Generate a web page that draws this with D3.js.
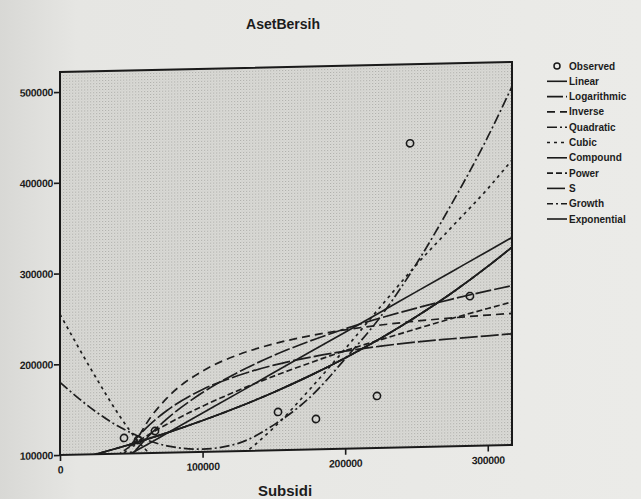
<!DOCTYPE html>
<html>
<head>
<meta charset="utf-8">
<script src="https://cdn.jsdelivr.net/npm/d3@7"></script>
<style>
  html, body { margin: 0; padding: 0; background: #e9e9e6; }
  svg { display: block; }
  text { font-family: "Liberation Sans", Arial, sans-serif; fill: #1c1c1c; }
</style>
</head>
<body>
<svg id="chart" width="641" height="499"></svg>
<script>
// values
const gridX = [0, 25000, 40000, 50000, 60000, 75000, 100000, 125000, 150000,
  175000, 200000, 225000, 250000, 275000, 300000, 317000]

const linearY = [57000, 78400, 91300, 99900, 108400, 121300, 142700, 164100, 185600,
  207000, 228400, 249800, 271300, 292700, 314100, 328700]
const logY = [null, 29200, 75500, 97500, 115400, 137200, 165300, 186900, 204500,
  219300, 232100, 243300, 253200, 262200, 270400, 275600]
const inverseY = [null, -73600, 58100, 102000, 131100, 160100, 189000, 206100, 217300,
  225200, 231000, 235400, 238800, 241500, 243700, 245000]
const quadraticY = [180000, 147000, 131000, 122500, 115000, 107500, 103000, 108500, 128000,
  157000, 199000, 245000, 302000, 368000, 440000, 495000]
const cubicY = [255000, 185000, 146000, 123000, 104000, 85000, 75000, 93000, 125000,
  166000, 210000, 256000, 301000, 342000, 383000, 414000]
const expY = [90500, 99900, 106000, 110300, 114800, 121800, 134500, 148500, 164000,
  181100, 200000, 220800, 243800, 269200, 297300, 318000]
const powerY = [null, 78200, 97700, 108500, 118200, 131300, 150300, 166800, 181700,
  195200, 207900, 219300, 230300, 240900, 251000, 257600]
const sY = [null, 46700, 89000, 110100, 127000, 146400, 168700, 183200, 193800,
  201500, 207500, 212100, 215800, 218500, 220900, 222500]

const observedX = [44900, 54700, 66600, 152900, 179500, 222300, 245500, 287500]
const observedY = [117200, 114600, 124100, 142100, 133400, 157300, 434900, 265000]

const xTicks = [0, 100000, 200000, 300000]
const yTicks = [100000, 200000, 300000, 400000, 500000]

const seriesNames = ['Linear', 'Logarithmic', 'Inverse', 'Quadratic', 'Cubic',
  'Compound', 'Power', 'S', 'Growth', 'Exponential']
const seriesValues = [linearY, logY, inverseY, quadraticY, cubicY,
  expY, powerY, sY, expY, expY]
const seriesDash = [null, '16,3', '8,5', '10,3,2,3', '3,4',
  null, '6,3', '18,3', '6,3,2,3', null]

const plot = { left: 60, right: 512, top: 72, bottom: 455 }

const x = d3.scaleLinear().domain([0, 317000]).range([plot.left, plot.right])
const y = d3.scaleLinear().domain([100000, 522000]).range([plot.bottom, plot.top])

const svg = d3.select('#chart')
const defs = svg.append('defs')

// scanner look: page slightly darker at the left edge
const bg = defs.append('linearGradient').attr('id', 'page')
bg.append('stop').attr('offset', '0%').attr('stop-color', '#d8d8d5')
bg.append('stop').attr('offset', '12%').attr('stop-color', '#e6e6e3')
bg.append('stop').attr('offset', '100%').attr('stop-color', '#ebebe8')
svg.append('rect').attr('width', 641).attr('height', 499).attr('fill', 'url(#page)')

// halftone fill of the plot area
const pat = defs.append('pattern').attr('id', 'dots')
  .attr('width', 3).attr('height', 3).attr('patternUnits', 'userSpaceOnUse')
pat.append('rect').attr('width', 3).attr('height', 3).attr('fill', '#dadad6')
pat.append('rect').attr('width', 1).attr('height', 1).attr('fill', '#ababa7')
pat.append('rect').attr('x', 1.5).attr('y', 1.5).attr('width', 1).attr('height', 1).attr('fill', '#c4c4c0')

defs.append('clipPath').attr('id', 'clip')
  .append('rect')
  .attr('x', plot.left).attr('y', plot.top)
  .attr('width', plot.right - plot.left).attr('height', plot.bottom - plot.top)

// the scan is a little crooked, so the plot block is skewed
const g = svg.append('g')
  .attr('transform', `translate(${plot.left},${plot.bottom}) skewY(-1.27) translate(${-plot.left},${-plot.bottom})`)

g.append('rect')
  .attr('x', plot.left).attr('y', plot.top)
  .attr('width', plot.right - plot.left).attr('height', plot.bottom - plot.top)
  .attr('fill', 'url(#dots)')

const line = d3.line()
  .defined(d => d[1] != null)
  .x(d => x(d[0]))
  .y(d => y(d[1]))
  .curve(d3.curveMonotoneX)

const curves = g.append('g').attr('clip-path', 'url(#clip)')

seriesNames.forEach((name, i) => {
  curves.append('path')
    .attr('d', line(gridX.map((v, j) => [v, seriesValues[i][j]])))
    .attr('fill', 'none')
    .attr('stroke', '#1e1e1e')
    .attr('stroke-width', 1.7)
    .attr('stroke-dasharray', seriesDash[i])
})

curves.selectAll('circle')
  .data(observedX.map((v, i) => [v, observedY[i]]))
  .enter()
  .append('circle')
  .attr('cx', d => x(d[0]))
  .attr('cy', d => y(d[1]))
  .attr('r', 3.6)
  .attr('fill', 'none')
  .attr('stroke', '#1a1a1a')
  .attr('stroke-width', 1.6)

const xAxis = g.append('g')
  .attr('transform', `translate(0,${plot.bottom})`)
  .call(d3.axisBottom(x).tickValues(xTicks).tickFormat(d3.format('d')).tickSize(6).tickPadding(5))

const yAxis = g.append('g')
  .attr('transform', `translate(${plot.left},0)`)
  .call(d3.axisLeft(y).tickValues(yTicks).tickFormat(d3.format('d')).tickSize(6).tickPadding(1))

;[xAxis, yAxis].forEach(a => {
  a.select('.domain').remove()
  a.selectAll('line').attr('stroke', '#1a1a1a').attr('stroke-width', 1.6)
  a.selectAll('text')
    .attr('font-size', 10.5)
    .attr('font-weight', 'bold')
    .attr('letter-spacing', -0.3)
    .style('font-family', '"Liberation Sans", Arial, sans-serif')
    .attr('fill', '#1c1c1c')
})

g.append('rect')
  .attr('x', plot.left).attr('y', plot.top)
  .attr('width', plot.right - plot.left).attr('height', plot.bottom - plot.top)
  .attr('fill', 'none')
  .attr('stroke', '#1a1a1a')
  .attr('stroke-width', 2)

svg.append('text')
  .attr('x', 283).attr('y', 29)
  .attr('text-anchor', 'middle')
  .attr('font-size', 14).attr('font-weight', 'bold')
  .text('AsetBersih')

svg.append('text')
  .attr('x', 285).attr('y', 496)
  .attr('text-anchor', 'middle')
  .attr('font-size', 15).attr('font-weight', 'bold')
  .text('Subsidi')

// legend
const legend = svg.append('g').attr('transform', 'translate(547,66)')
const rowH = 15.3

legend.append('circle')
  .attr('cx', 10).attr('cy', 0).attr('r', 3)
  .attr('fill', 'none').attr('stroke', '#1a1a1a').attr('stroke-width', 1.5)
legend.append('text')
  .attr('x', 22).attr('y', 3.5)
  .attr('font-size', 10).attr('font-weight', 'bold')
  .text('Observed')

seriesNames.forEach((name, i) => {
  const row = legend.append('g').attr('transform', `translate(0,${(i + 1) * rowH})`)
  row.append('line')
    .attr('x1', 0).attr('x2', 20)
    .attr('stroke', '#1a1a1a').attr('stroke-width', 1.6)
    .attr('stroke-dasharray', seriesDash[i])
  row.append('text')
    .attr('x', 22).attr('y', 3.5)
    .attr('font-size', 10).attr('font-weight', 'bold')
    .text(name)
})
</script>
</body>
</html>
